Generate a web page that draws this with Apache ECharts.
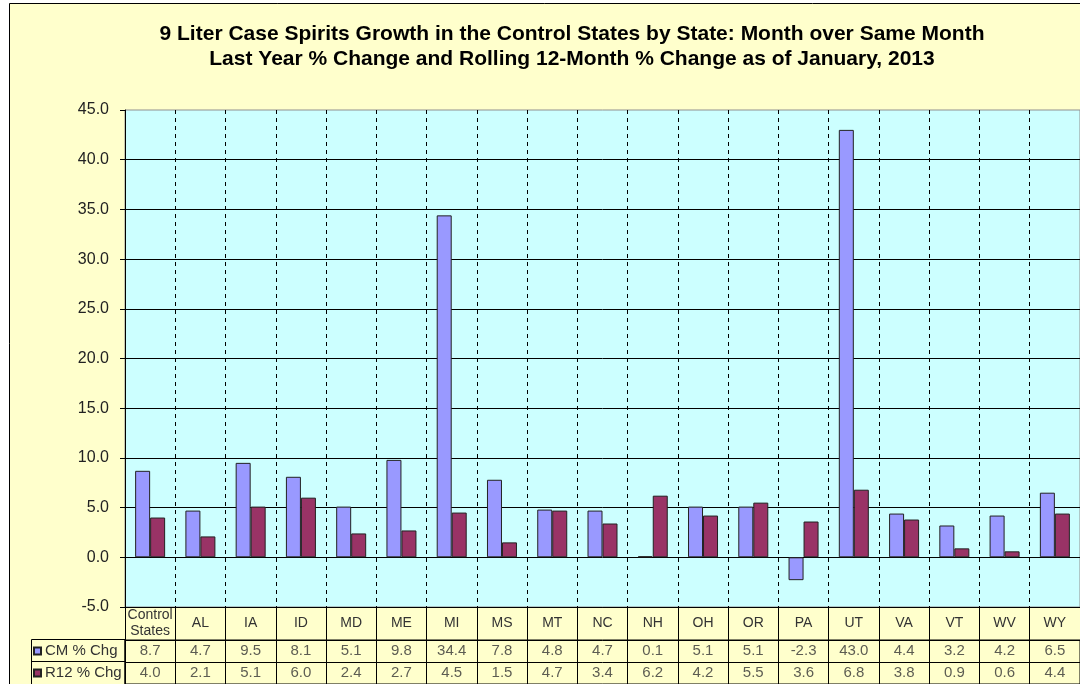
<!DOCTYPE html>
<html>
<head>
<meta charset="utf-8">
<script src="https://cdn.jsdelivr.net/npm/echarts@6/dist/echarts.min.js"></script>
<style>
  html, body { margin: 0; padding: 0; background: #fff; }
  #chart { width: 1080px; height: 684px; }
</style>
</head>
<body>
<div id="chart"></div>
<script>
// categories and values
const states = ['Control\nStates', 'AL', 'IA', 'ID', 'MD', 'ME', 'MI', 'MS', 'MT', 'NC',
  'NH', 'OH', 'OR', 'PA', 'UT', 'VA', 'VT', 'WV', 'WY']
const cmChg = [8.7, 4.7, 9.5, 8.1, 5.1, 9.8, 34.4, 7.8, 4.8, 4.7, 0.1, 5.1, 5.1, -2.3, 43.0, 4.4, 3.2, 4.2, 6.5]
const r12Chg = [4.0, 2.1, 5.1, 6.0, 2.4, 2.7, 4.5, 1.5, 4.7, 3.4, 6.2, 4.2, 5.5, 3.6, 6.8, 3.8, 0.9, 0.6, 4.4]
const seriesNames = ['CM % Chg', 'R12 % Chg']
const tableRows = ['R12', 'CM'] // bottom to top

const FONT = '"Liberation Sans", Arial, sans-serif'
const chart = echarts.init(document.getElementById('chart'))

// one row of the data table: invisible points carrying the value as a label
const tableSeries = (name, row, values) => ({
  name: name,
  type: 'scatter',
  xAxisIndex: 1,
  yAxisIndex: 1,
  symbolSize: 0,
  silent: true,
  data: values.map((v, i) => [i, row, v]),
  label: {
    show: true, position: 'inside',
    fontFamily: FONT, fontSize: 15, color: '#333',
    formatter: (p) => p.value[2].toFixed(1)
  }
})

const option = {
  backgroundColor: '#FFFFCC',
  animation: false,
  title: {
    text: '9 Liter Case Spirits Growth in the Control States by State: Month over Same Month\nLast Year % Change and Rolling 12-Month % Change as of January, 2013',
    left: 567,
    top: 17,
    textAlign: 'center',
    textStyle: { fontFamily: FONT, fontSize: 21, fontWeight: 'bold', color: '#000', lineHeight: 25 }
  },
  legend: {
    orient: 'vertical',
    left: 33,
    top: 643,
    padding: 0,
    itemWidth: 7,
    itemHeight: 7,
    itemGap: 6,
    icon: 'rect',
    textStyle: { fontFamily: FONT, fontSize: 15, color: '#333', lineHeight: 16, padding: [0, 0, 0, -1] },
    data: seriesNames
  },
  grid: [
    {
      left: 125,
      top: 110,
      width: 962,
      height: 497,
      show: true,
      backgroundColor: '#CCFFFF',
      borderColor: '#909090',
      borderWidth: 1
    },
    {
      left: 125,
      top: 640,
      width: 962,
      height: 44,
      show: true,
      backgroundColor: 'transparent',
      borderColor: '#000',
      borderWidth: 1
    }
  ],
  xAxis: [
    {
      type: 'category',
      data: states,
      axisLine: { show: true, onZero: false, lineStyle: { color: '#000', width: 1 } },
      axisTick: { show: true, length: 33, lineStyle: { color: '#000' } },
      axisLabel: {
        interval: 0, margin: 16, verticalAlign: 'middle', lineHeight: 16,
        fontFamily: FONT, fontSize: 14, color: '#333'
      },
      splitLine: { show: true, lineStyle: { color: '#000', type: [4, 4], width: 1 } }
    },
    {
      type: 'category',
      gridIndex: 1,
      data: states,
      axisLine: { show: false },
      axisTick: { show: false },
      axisLabel: { show: false },
      splitLine: { show: true, interval: 0, lineStyle: { color: '#000', width: 1 } }
    }
  ],
  yAxis: [
    {
      type: 'value',
      min: -5,
      max: 45,
      interval: 5,
      axisLine: { show: true, lineStyle: { color: '#000', width: 1 } },
      axisTick: { show: true, length: 5, lineStyle: { color: '#000' } },
      axisLabel: {
        margin: 16, fontFamily: FONT, fontSize: 16, color: '#222',
        formatter: (v) => v.toFixed(1)
      },
      splitLine: { show: true, showMaxLine: false, lineStyle: { color: '#000', width: 1 } }
    },
    {
      type: 'category',
      gridIndex: 1,
      data: tableRows,
      axisLine: { show: false },
      axisTick: { show: false },
      axisLabel: { show: false },
      splitLine: { show: true, interval: 0, lineStyle: { color: '#000', width: 1 } }
    }
  ],
  series: [
    {
      name: seriesNames[0],
      type: 'bar',
      data: cmChg,
      barWidth: 15,
      barGap: '0%',
      itemStyle: { color: '#9999FF', borderColor: '#222', borderWidth: 1 }
    },
    {
      name: seriesNames[1],
      type: 'bar',
      data: r12Chg,
      barWidth: 15,
      itemStyle: { color: '#993366', borderColor: '#222', borderWidth: 1 }
    },
    tableSeries('CM table', 1, cmChg),
    tableSeries('R12 table', 0, r12Chg)
  ],
  graphic: [
    // left column of the data table (legend cells)
    { type: 'rect', shape: { x: 31.5, y: 639.5, width: 93.5, height: 50 }, style: { fill: 'none', stroke: '#000', lineWidth: 1 } },
    { type: 'line', shape: { x1: 31, y1: 661.5, x2: 125, y2: 661.5 }, style: { stroke: '#000', lineWidth: 1 } },
    // outer frame of the chart area
    { type: 'rect', shape: { x: 0, y: 0, width: 9, height: 684 }, style: { fill: '#fff' } },
    { type: 'rect', shape: { x: 0, y: 0, width: 1080, height: 3 }, style: { fill: '#fff' } },
    { type: 'polyline', shape: { points: [[9.5, 684], [9.5, 3.5], [1080, 3.5]] }, style: { fill: 'none', stroke: '#000', lineWidth: 1 } }
  ]
}

chart.setOption(option)
</script>
</body>
</html>
